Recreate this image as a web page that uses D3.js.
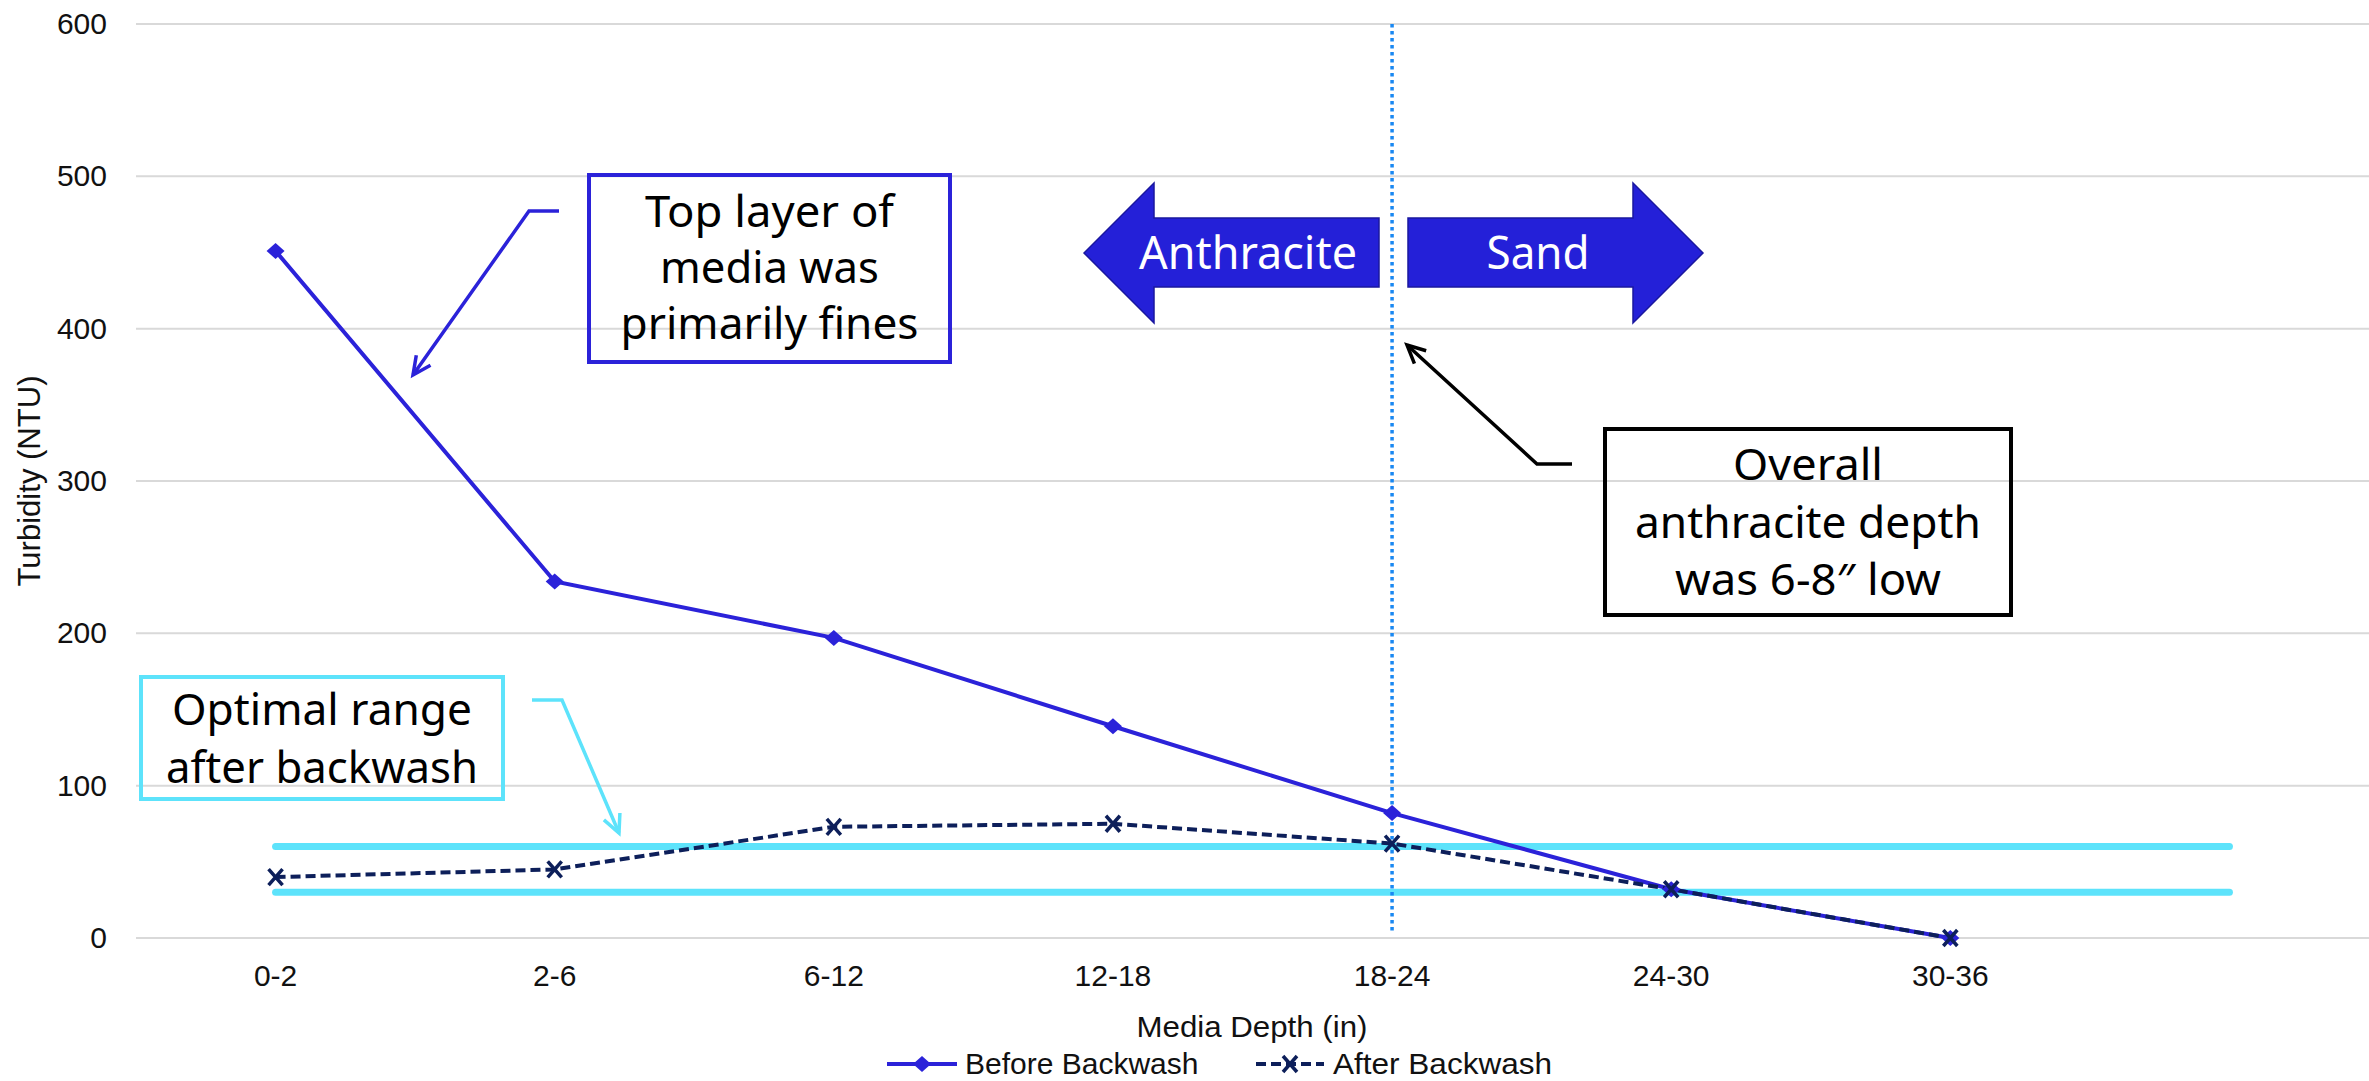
<!DOCTYPE html>
<html>
<head>
<meta charset="utf-8">
<script src="https://cdn.jsdelivr.net/npm/d3@7"></script>
<style>
  html, body { margin: 0; padding: 0; background: #fff; }
  svg { display: block; }
</style>
</head>
<body>
<svg id="chart" width="2369" height="1081"></svg>
<script>
// Media depth intervals (the last, unlabeled slot lets the range lines run past the data)
const categories = ["0-2", "2-6", "6-12", "12-18", "18-24", "24-30", "30-36", ""];
const beforeBackwash = [451, 234, 197, 139, 82, 32, 0];
const afterBackwash = [40, 45, 73, 75, 62, 32, 0];
const optimalUpper = [60, 60, 60, 60, 60, 60, 60, 60];
const optimalLower = [30, 30, 30, 30, 30, 30, 30, 30];
const yTicks = [0, 100, 200, 300, 400, 500, 600];
const dividerCategory = "18-24";

const W = 2369, H = 1081;
const plot = { left: 136, right: 2369, top: 24, bottom: 938 };

const svg = d3.select("#chart");

const x = d3.scaleBand().domain(categories).range([plot.left, plot.right]);
const cx = c => x(c) + x.bandwidth() / 2;
const y = d3.scaleLinear().domain([0, 600]).range([plot.bottom, plot.top]);

const colBefore = "#2b22d9";
const colAfter = "#0d1f5a";
const colCyan = "#5de3fb";
const axisFont = "'Liberation Sans', Arial, sans-serif";
const noteFont = "'Noto Sans', 'Open Sans', sans-serif";

// gridlines + y tick labels
const yAxis = d3.axisLeft(y).tickValues(yTicks).tickSize(0).tickPadding(29);
const gy = svg.append("g").attr("transform", `translate(${plot.left},0)`).call(yAxis);
gy.select(".domain").remove();
gy.selectAll("text").attr("font-family", axisFont).attr("font-size", 30).attr("fill", "#111");
svg.append("g").selectAll("line").data(yTicks).join("line")
  .attr("x1", plot.left).attr("x2", plot.right)
  .attr("y1", d => y(d)).attr("y2", d => y(d))
  .attr("stroke", "#d9d9d9").attr("stroke-width", 2);

// x tick labels
const xAxis = d3.axisBottom(x).tickSize(0).tickPadding(27);
const gx = svg.append("g").attr("transform", `translate(0,${plot.bottom})`).call(xAxis);
gx.select(".domain").remove();
gx.selectAll("text").attr("font-family", axisFont).attr("font-size", 30).attr("fill", "#111");

// axis titles
svg.append("text")
  .attr("transform", `translate(40,481) rotate(-90)`)
  .attr("text-anchor", "middle").attr("font-family", axisFont).attr("font-size", 31)
  .attr("textLength", 211).attr("lengthAdjust", "spacingAndGlyphs")
  .attr("fill", "#111").text("Turbidity (NTU)");
svg.append("text")
  .attr("x", 1252).attr("y", 1037)
  .attr("text-anchor", "middle").attr("font-family", axisFont).attr("font-size", 30)
  .attr("textLength", 231).attr("lengthAdjust", "spacingAndGlyphs")
  .attr("fill", "#111").text("Media Depth (in)");

// optimal range lines
const rangeLine = d3.line().x((d, i) => cx(categories[i])).y(d => y(d));
[optimalUpper, optimalLower].forEach(arr => {
  svg.append("path").attr("d", rangeLine(arr))
    .attr("fill", "none").attr("stroke", colCyan).attr("stroke-width", 7)
    .attr("stroke-linecap", "round");
});

// anthracite / sand divider
svg.append("line")
  .attr("x1", cx(dividerCategory)).attr("x2", cx(dividerCategory))
  .attr("y1", plot.top).attr("y2", plot.bottom - 5)
  .attr("stroke", "#1a88f2").attr("stroke-width", 3.5).attr("stroke-dasharray", "3.5,3.5");

// data series
const seriesLine = d3.line().x((d, i) => cx(categories[i])).y(d => y(d));
svg.append("path").attr("d", seriesLine(beforeBackwash))
  .attr("fill", "none").attr("stroke", colBefore).attr("stroke-width", 4);
svg.append("path").attr("d", seriesLine(afterBackwash))
  .attr("fill", "none").attr("stroke", colAfter).attr("stroke-width", 4)
  .attr("stroke-dasharray", "10,5");

// rhombus marker for the "before" series
const diamondPath = "M0,-8L9,0L0,8L-9,0Z";
function xMark(g, px, py, r) {
  g.append("path")
    .attr("d", `M${px - r},${py - r - 1}L${px + r},${py + r + 1}M${px - r},${py + r + 1}L${px + r},${py - r - 1}`)
    .attr("stroke", colAfter).attr("stroke-width", 3.5).attr("fill", "none");
}
svg.append("g").selectAll("path").data(beforeBackwash).join("path")
  .attr("d", diamondPath)
  .attr("transform", (d, i) => `translate(${cx(categories[i])},${y(d)})`)
  .attr("fill", colBefore);
const gx2 = svg.append("g");
afterBackwash.forEach((d, i) => xMark(gx2, cx(categories[i]), y(d), 7));

// legend
const lg = svg.append("g");
lg.append("line").attr("x1", 887).attr("x2", 957).attr("y1", 1064).attr("y2", 1064)
  .attr("stroke", colBefore).attr("stroke-width", 4);
lg.append("path").attr("d", diamondPath).attr("transform", "translate(922,1064)").attr("fill", colBefore);
lg.append("text").attr("x", 965).attr("y", 1074).attr("font-family", axisFont).attr("font-size", 30)
  .attr("fill", "#111").text("Before Backwash");
lg.append("line").attr("x1", 1256).attr("x2", 1324).attr("y1", 1064).attr("y2", 1064)
  .attr("stroke", colAfter).attr("stroke-width", 4).attr("stroke-dasharray", "10,5");
xMark(lg, 1290, 1064, 7);
lg.append("text").attr("x", 1333).attr("y", 1074).attr("font-family", axisFont).attr("font-size", 30)
  .attr("textLength", 219).attr("lengthAdjust", "spacingAndGlyphs")
  .attr("fill", "#111").text("After Backwash");

// block arrows naming the media layers
const blockArrows = [
  { label: "Anthracite", tx: 1248, tw: 218,
    pts: [[1084, 253], [1154, 183], [1154, 218], [1379, 218], [1379, 287], [1154, 287], [1154, 323]] },
  { label: "Sand", tx: 1538, tw: 103,
    pts: [[1408, 218], [1633, 218], [1633, 183], [1703, 253], [1633, 323], [1633, 287], [1408, 287]] }
];
blockArrows.forEach(a => {
  svg.append("polygon").attr("points", a.pts.map(p => p.join(",")).join(" "))
    .attr("fill", "#2420d8").attr("stroke", "#1a179f").attr("stroke-width", 1.5);
  svg.append("text").attr("x", a.tx).attr("y", 269).attr("text-anchor", "middle")
    .attr("font-family", noteFont).attr("font-size", 46)
    .attr("textLength", a.tw).attr("lengthAdjust", "spacingAndGlyphs")
    .attr("fill", "#fff").text(a.label);
});

// callout boxes with leader arrows
function callout(o) {
  const g = svg.append("g");
  g.append("rect").attr("x", o.box[0]).attr("y", o.box[1])
    .attr("width", o.box[2] - o.box[0]).attr("height", o.box[3] - o.box[1])
    .attr("fill", "none").attr("stroke", o.color).attr("stroke-width", 4);
  const mid = (o.box[0] + o.box[2]) / 2;
  o.lines.forEach((t, i) => {
    g.append("text").attr("x", mid).attr("y", o.baselines[i]).attr("text-anchor", "middle")
      .attr("font-family", noteFont).attr("font-size", o.size)
      .attr("textLength", o.widths[i]).attr("lengthAdjust", "spacingAndGlyphs")
      .attr("fill", "#000").text(t);
  });
  g.append("path").attr("d", d3.line()(o.leader))
    .attr("fill", "none").attr("stroke", o.color).attr("stroke-width", 3.5);
  const n = o.leader.length;
  const [tx, ty] = o.leader[n - 1], [px, py] = o.leader[n - 2];
  const ang = Math.atan2(ty - py, tx - px), L = 20, s = 0.45;
  const h1 = [tx - L * Math.cos(ang - s), ty - L * Math.sin(ang - s)];
  const h2 = [tx - L * Math.cos(ang + s), ty - L * Math.sin(ang + s)];
  g.append("path").attr("d", d3.line()([h1, [tx, ty], h2]))
    .attr("fill", "none").attr("stroke", o.color).attr("stroke-width", 3.5)
    .attr("stroke-linejoin", "miter");
}

callout({
  box: [589, 175, 950, 362], color: colBefore, size: 44,
  lines: ["Top layer of", "media was", "primarily fines"],
  baselines: [227, 283, 339], widths: [249, 219, 298],
  leader: [[559, 211], [529, 211], [413, 375]]
});
callout({
  box: [1605, 429, 2011, 615], color: "#000", size: 44,
  lines: ["Overall", "anthracite depth", "was 6-8\u2033 low"],
  baselines: [480, 538, 595], widths: [150, 346, 266],
  leader: [[1572, 464], [1537, 464], [1407, 345]]
});
callout({
  box: [141, 677, 503, 799], color: colCyan, size: 44,
  lines: ["Optimal range", "after backwash"],
  baselines: [725, 783], widths: [300, 312],
  leader: [[532, 700], [562, 700], [619, 833]]
});
</script>
</body>
</html>
